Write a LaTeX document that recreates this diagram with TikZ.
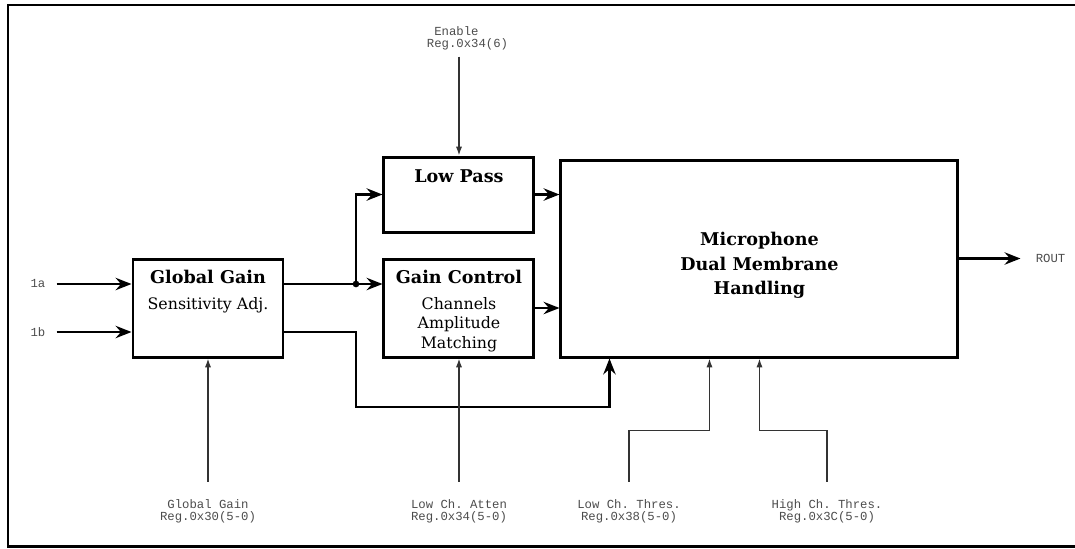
\documentclass[tikz,border=0pt]{standalone}
\usepackage{fontspec}
\setmainfont{DejaVu Serif}
\setmonofont{Liberation Mono}
\usetikzlibrary{arrows.meta, positioning}
\tikzstyle{block} = [rectangle, draw, line width=1.7pt, minimum width=3cm, minimum height=1.96cm, inner sep=0pt]
\tikzstyle{blocktext} = [align=center, inner sep=0pt, font=\fontsize{9}{11}\selectfont]
\tikzstyle{reglabel} = [align=center, inner sep=0pt, text=black!70, font=\ttfamily\fontsize{7}{7}\selectfont]
\tikzstyle{signal} = [line width=1.6pt, -{Stealth[length=9pt, width=7pt, inset=3pt]}]
\tikzstyle{ctrl} = [line width=0.8pt, draw=black!80, -{Latex[length=5pt, width=3.5pt]}]
\newcommand{\blocktitle}[1]{{\fontsize{10}{12}\selectfont\bfseries #1}}

\begin{document}
\begin{tikzpicture}
\useasboundingbox (0,0) rectangle (21.5,-10.96);
\draw [line width=1.3pt] (21.5,-0.1) -| (0.16,-10.93) -- (21.5,-10.93);

% Nodes
\node (gain) [block] at (4.16,-6.16) {};
\node (gainctrl) [block, right=1.96cm of gain] {};
\node (lowpass) [block, minimum height=1.5cm, above=0.48cm of gainctrl] {};
\node (micro) [block, minimum width=7.94cm, minimum height=3.94cm, right=0.48cm of gainctrl.south east, anchor=south west] {};

\node (gaintext) [blocktext, below=0.25cm of gain.north] {\blocktitle{Global Gain}\\[3.7pt]Sensitivity Adj.};
\node (lowtext) [blocktext, below=0.27cm of lowpass.north] {\blocktitle{Low Pass}};
\node (ctrltext) [blocktext, below=0.25cm of gainctrl.north] {\blocktitle{Gain Control}\\[3.7pt]Channels\\Amplitude\\Matching};
\node (microtext) [blocktext, font=\fontsize{10}{14}\selectfont\bfseries, below=1.47cm of micro.north] {Microphone\\Dual Membrane\\Handling};

\node (in1a) [reglabel] at (0.76,-5.68) {1a};
\node (in1b) [reglabel] at (0.76,-6.64) {1b};
\node (rout) [reglabel, right=1.52cm of micro.east] {ROUT};
\node (enable) [reglabel, align=left] at (9.35,-0.76) {\hphantom{R}Enable\\Reg.0x34(6)};

\node (ggreg) [reglabel] at (gain |- 0,-10.22) {Global Gain\\Reg.0x30(5-0)};
\node (lareg) [reglabel] at (gainctrl |- 0,-10.22) {Low Ch. Atten\\Reg.0x34(5-0)};
\node (ltreg) [reglabel] at (12.58,-10.22) {Low Ch. Thres.\\Reg.0x38(5-0)};
\node (htreg) [reglabel] at (16.54,-10.22) {High Ch. Thres.\\Reg.0x3C(5-0)};

\coordinate (split) at (7.12,-5.68);
\coordinate (detour) at (7.12,-8.14);
\coordinate [above=1.98cm of lowpass.north] (entail);
\coordinate (ltin) at ([xshift=-1cm]micro.south);

% Connections
\draw [signal] ([xshift=0.22cm]in1a.east) -- (in1a -| gain.west);
\draw [signal] ([xshift=0.22cm]in1b.east) -- (in1b -| gain.west);

\draw [signal] (gain.east |- in1a) -- (gainctrl.west |- in1a);
\draw [signal] (split) |- (lowpass.west);
\fill (split) circle (1.9pt);
\draw [signal] (gain.east |- in1b) -| (detour) -| ([xshift=1cm]micro.south west);

\draw [signal] (lowpass.east) -- (lowpass.east -| micro.west);
\draw [signal] (gainctrl.east) -- (gainctrl.east -| micro.west);
\draw [signal] (micro.east) -- ([xshift=-0.3cm]rout.west);

\draw [ctrl] (entail) -- (lowpass.north);
\draw [ctrl] ([yshift=0.34cm]ggreg.north) -- (gain.south);
\draw [ctrl] ([yshift=0.34cm]lareg.north) -- (gainctrl.south);
\draw [ctrl] ([yshift=0.34cm]ltreg.north) -- ++(0,1.02) -| (ltin);
\draw [ctrl] ([yshift=0.34cm]htreg.north) -- ++(0,1.02) -| (micro.south);

\end{tikzpicture}
\end{document}
